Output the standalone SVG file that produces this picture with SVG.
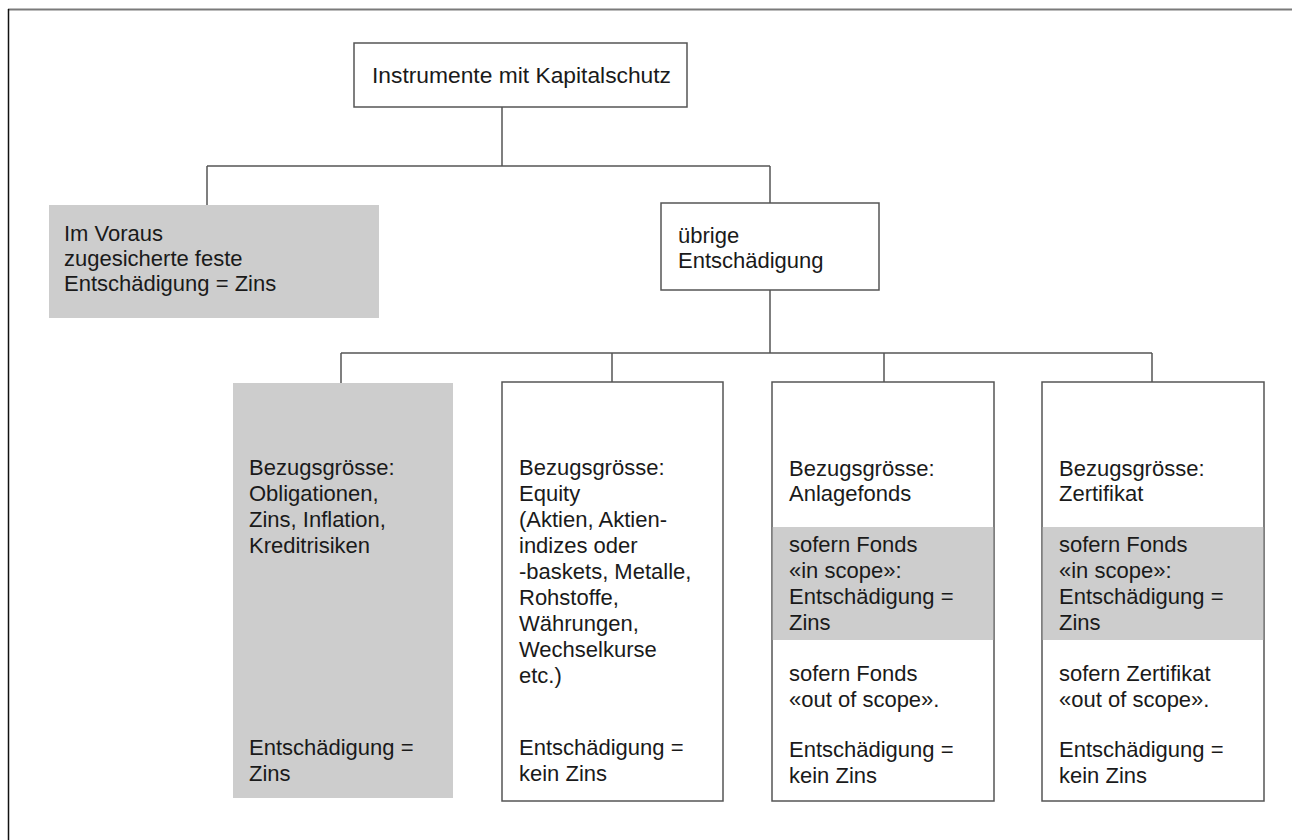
<svg xmlns="http://www.w3.org/2000/svg" width="1292" height="840" viewBox="0 0 1292 840">
  <style>
    .box { fill: #ffffff; stroke: #555555; stroke-width: 1.5; }
    .shade { fill: #cdcdcd; stroke: none; }
    .link { fill: none; stroke: #555555; stroke-width: 1.5; }
    text { font-family: "Liberation Sans", Arial, sans-serif; font-size: 22px; fill: #1a1a1a; }
    .title { font-size: 22.8px; }
  </style>

  <rect width="1292" height="840" fill="#ffffff"/>

  <!-- page frame -->
  <line x1="8" y1="9.5" x2="1292" y2="9.5" stroke="#7a7a7a" stroke-width="2"/>
  <line x1="8.5" y1="9" x2="8.5" y2="840" stroke="#111111" stroke-width="1.5"/>

  <!-- connectors -->
  <g id="connectors">
    <path class="link" d="M502 107 V166 M207 166 H770 M207 166 V205 M770 166 V203"/>
    <path class="link" d="M770 290 V353 M341 353 H1152 M341 353 V383 M612 353 V382 M884 353 V382 M1152 353 V382"/>
  </g>

  <!-- root -->
  <g id="node-root">
    <rect class="box" x="354" y="43" width="333" height="64"/>
    <text class="title" x="372" y="83">Instrumente mit Kapitalschutz</text>
  </g>

  <!-- fixed compensation -->
  <g id="node-fixed">
    <rect class="shade" x="49" y="205" width="330" height="113"/>
    <text x="64" y="241">Im Voraus</text>
    <text x="64" y="266">zugesicherte feste</text>
    <text x="64" y="291">Entschädigung = Zins</text>
  </g>

  <!-- other compensation -->
  <g id="node-other">
    <rect class="box" x="661" y="203" width="218" height="87"/>
    <text x="678" y="243">übrige</text>
    <text x="678" y="268">Entschädigung</text>
  </g>

  <!-- bonds -->
  <g id="node-bonds">
    <rect class="shade" x="233" y="383" width="220" height="415"/>
    <text x="249" y="475">Bezugsgrösse:</text>
    <text x="249" y="501">Obligationen,</text>
    <text x="249" y="527">Zins, Inflation,</text>
    <text x="249" y="553">Kreditrisiken</text>
    <text x="249" y="755">Entschädigung =</text>
    <text x="249" y="781">Zins</text>
  </g>

  <!-- equity -->
  <g id="node-equity">
    <rect class="box" x="502" y="382" width="221" height="419"/>
    <text x="519" y="475">Bezugsgrösse:</text>
    <text x="519" y="501">Equity</text>
    <text x="519" y="527">(Aktien, Aktien-</text>
    <text x="519" y="553">indizes oder</text>
    <text x="519" y="579">-baskets, Metalle,</text>
    <text x="519" y="605">Rohstoffe,</text>
    <text x="519" y="631">Währungen,</text>
    <text x="519" y="657">Wechselkurse</text>
    <text x="519" y="683">etc.)</text>
    <text x="519" y="755">Entschädigung =</text>
    <text x="519" y="781">kein Zins</text>
  </g>

  <!-- investment funds -->
  <g id="node-funds">
    <rect class="box" x="772" y="382" width="222" height="419"/>
    <rect class="shade" x="772.75" y="527" width="220.5" height="113"/>
    <text x="789" y="476">Bezugsgrösse:</text>
    <text x="789" y="501">Anlagefonds</text>
    <text x="789" y="552">sofern Fonds</text>
    <text x="789" y="578">«in scope»:</text>
    <text x="789" y="604">Entschädigung =</text>
    <text x="789" y="630">Zins</text>
    <text x="789" y="681">sofern Fonds</text>
    <text x="789" y="707">«out of scope».</text>
    <text x="789" y="757">Entschädigung =</text>
    <text x="789" y="783">kein Zins</text>
  </g>

  <!-- certificates -->
  <g id="node-certificates">
    <rect class="box" x="1042" y="382" width="222" height="419"/>
    <rect class="shade" x="1042.75" y="527" width="220.5" height="113"/>
    <text x="1059" y="476">Bezugsgrösse:</text>
    <text x="1059" y="501">Zertifikat</text>
    <text x="1059" y="552">sofern Fonds</text>
    <text x="1059" y="578">«in scope»:</text>
    <text x="1059" y="604">Entschädigung =</text>
    <text x="1059" y="630">Zins</text>
    <text x="1059" y="681">sofern Zertifikat</text>
    <text x="1059" y="707">«out of scope».</text>
    <text x="1059" y="757">Entschädigung =</text>
    <text x="1059" y="783">kein Zins</text>
  </g>
</svg>
